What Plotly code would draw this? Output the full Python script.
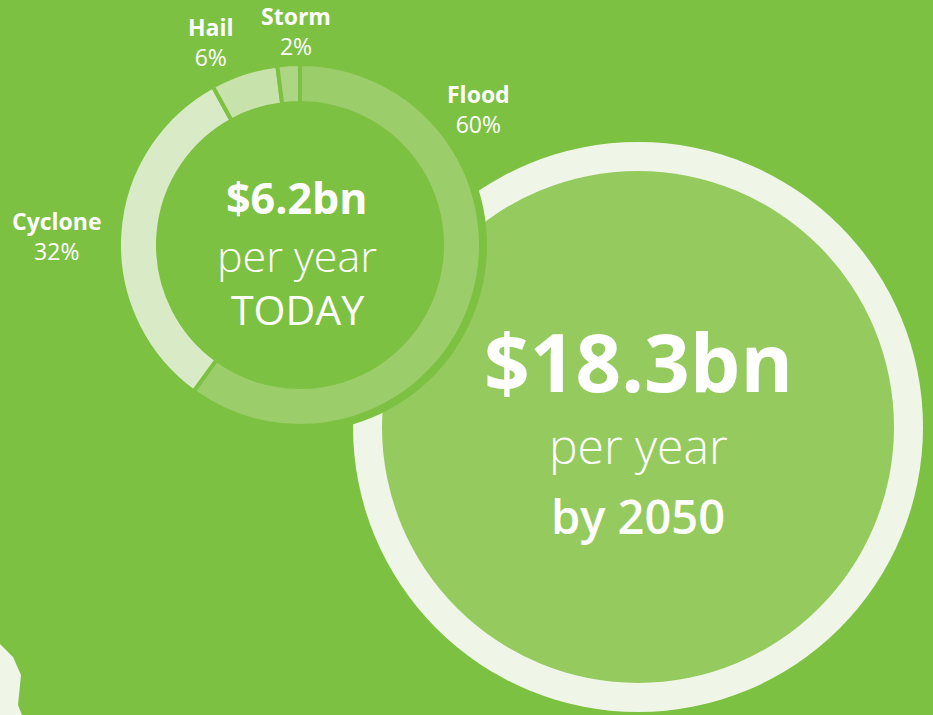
import plotly.graph_objects as go

# ---- data ----
categories = ["Flood", "Cyclone", "Hail", "Storm"]
shares = [60, 32, 6, 2]
slice_colors = ["#9ccd6b", "#d8ebc6", "#c7e2ab", "#acd683"]
today_lines = ["$6.2bn", "per year", "TODAY"]
future_lines = ["$18.3bn", "per year", "by 2050"]

W, H = 933, 715
BG = "#7dc142"
FONT = "Open Sans"

# donut geometry (pixels)
cx, cy, r_out, r_in = 300, 245, 181, 142
# big circle
bx, by, br_out, br_in = 638, 427, 285, 256

fig = go.Figure()

fig.add_trace(go.Pie(
    labels=categories, values=shares, sort=False, direction="clockwise",
    rotation=0, hole=r_in / r_out,
    marker=dict(colors=slice_colors, line=dict(color=BG, width=4)),
    textinfo="none", hoverinfo="skip", showlegend=False,
    domain=dict(x=[(cx - r_out) / W, (cx + r_out) / W],
                y=[1 - (cy + r_out) / H, 1 - (cy - r_out) / H]),
))

shapes = []
# bottom-left decorative fragment
shapes.append(dict(type="path", xref="x", yref="y",
                   path="M -5 639 L 13 657 L 21 675 L 18 705 L 24 720 L -5 720 Z",
                   fillcolor="#eff6e8", line=dict(width=0), layer="below"))
# big ring + fill
shapes.append(dict(type="circle", xref="x", yref="y", x0=bx - br_out, x1=bx + br_out,
                   y0=by - br_out, y1=by + br_out, fillcolor="#eff6e8", line=dict(width=0), layer="below"))
shapes.append(dict(type="circle", xref="x", yref="y", x0=bx - br_in, x1=bx + br_in,
                   y0=by - br_in, y1=by + br_in, fillcolor="#95ca5e", line=dict(width=0), layer="below"))
# gap around donut
g = r_out + 6
shapes.append(dict(type="circle", xref="x", yref="y", x0=cx - g, x1=cx + g,
                   y0=cy - g, y1=cy + g, fillcolor=BG, line=dict(width=0), layer="below"))

annotations = []
# slice labels
label_pos = {"Flood": (478, 109), "Cyclone": (57, 236), "Hail": (211, 42), "Storm": (296, 31)}
for cat, val in zip(categories, shares):
    x, y = label_pos[cat]
    annotations.append(dict(x=x, y=y, xref="x", yref="y", showarrow=False,
                            text=f"<b>{cat}</b><br>{val}%", align="center",
                            font=dict(family=FONT, size=23, color="white")))

# today text
annotations.append(dict(x=297, y=197, xref="x", yref="y", showarrow=False, text=f"<b>{today_lines[0]}</b>",
                        font=dict(family=FONT, size=43, color="white")))
annotations.append(dict(x=297, y=255, xref="x", yref="y", showarrow=False, text=today_lines[1],
                        font=dict(family=FONT, size=43, color="white", weight=300)))
annotations.append(dict(x=297, y=309, xref="x", yref="y", showarrow=False, text=today_lines[2],
                        font=dict(family=FONT, size=41, color="white")))
# future text
annotations.append(dict(x=638, y=360, xref="x", yref="y", showarrow=False, text=f"<b>{future_lines[0]}</b>",
                        font=dict(family=FONT, size=80, color="white")))
annotations.append(dict(x=638, y=445, xref="x", yref="y", showarrow=False, text=future_lines[1],
                        font=dict(family=FONT, size=48, color="white", weight=300)))
annotations.append(dict(x=638, y=516, xref="x", yref="y", showarrow=False, text=future_lines[2],
                        font=dict(family=FONT, size=47, color="white", weight=600)))

fig.update_layout(
    width=W, height=H, margin=dict(l=0, r=0, t=0, b=0),
    paper_bgcolor=BG, plot_bgcolor=BG, showlegend=False,
    xaxis=dict(range=[0, W], visible=False, fixedrange=True),
    yaxis=dict(range=[H, 0], visible=False, fixedrange=True),
    shapes=shapes, annotations=annotations,
)

fig.write_html("out.html", config={"displayModeBar": False},
               post_script="document.body.style.margin='0';document.body.style.background='%s';" % BG)
